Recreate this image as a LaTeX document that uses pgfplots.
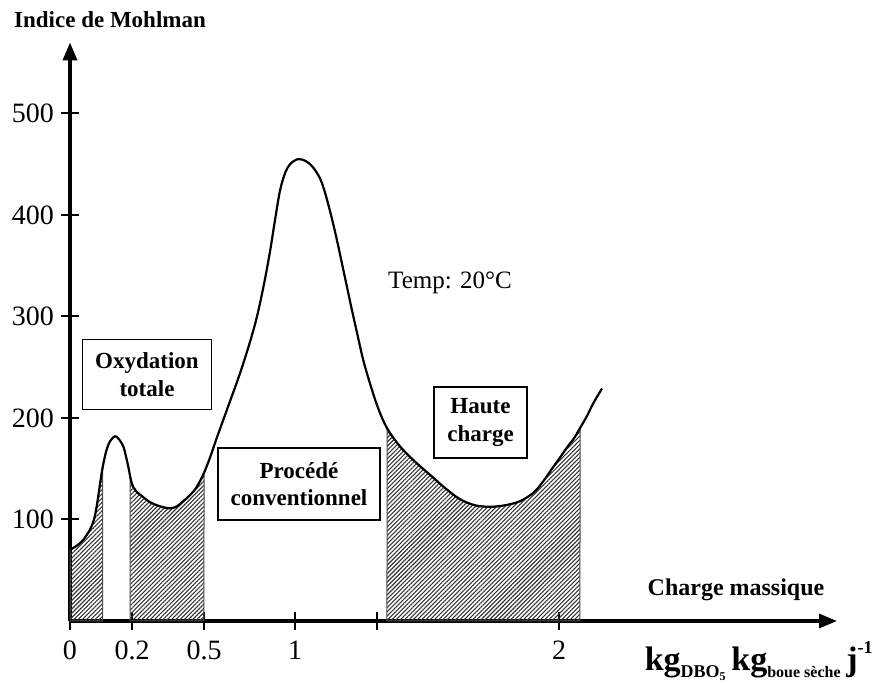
\documentclass[border=0pt]{standalone}
\usepackage{fontspec}
\setmainfont{Liberation Serif}
\usepackage{pgfplots}
\pgfplotsset{compat=1.18}
\usepgfplotslibrary{fillbetween}
\usetikzlibrary{arrows.meta,patterns.meta}
\begin{document}
\begin{tikzpicture}
\begin{axis}[
  x=0.5pt, y=0.5075pt,
  xmin=0, xmax=767, ymin=0, ymax=570,
  axis lines=left,
  enlargelimits=false,
  clip=false,
  every outer x axis line/.append style={line width=1.6pt, -{Triangle[length=9pt,width=7pt]}},
  every outer y axis line/.append style={line width=1.8pt, -{Triangle[length=9pt,width=7pt]}},
  x axis line style={line width=1.6pt, -{Triangle[length=9pt,width=7pt]}},
  y axis line style={line width=1.8pt, -{Triangle[length=9pt,width=7pt]}},
  xtick={0,62,134,225,307,489},
  xticklabels={0,0.2,0.5,1,{},2},
  ytick={100,200,300,400,500},
  tick align=center,
  major tick length=9pt,
  tick style={line width=1pt, black},
  /pgf/number format/assume math mode=true,
  tick label style={font=\fontsize{14}{16}\selectfont},
  xticklabel style={yshift=-2pt},
]
% curve
\addplot[name path=curve, black, line width=1.1pt, smooth, tension=0.55] coordinates {
(0,70) (3.3,72) (8,75) (13.3,80) (20,90) (24,100) (26.7,113) (29,128) (31.7,146)
(34,158) (36.7,169) (40,177) (45,182) (49,179) (53.3,172) (56,162) (58.3,152)
(61.7,136) (66,128) (73.3,122) (80,117) (90,113) (100,111) (107,113) (113.3,118)
(120,124) (126.7,132) (134,146) (140,161) (147,181) (158,211) (170,244) (180,275)
(187,300) (194,332) (200,364) (205,395) (210,424) (215,441) (220,450) (228,455)
(236,453) (243,447) (250,436) (255,422) (261,400) (267,375) (272,352) (277,329)
(282,306) (287,284) (293,258) (300,234) (308,210) (317,190) (330,172)
(345,157) (360,144) (375,131) (390,120) (405,114) (420,112.5) (435,114)
(450,118) (463,126) (472,136) (482,150) (490,161) (497,171) (504,180)
(510,190) (517,202) (523,214) (532,229)
};
\path[name path=base] (axis cs:0,0) -- (axis cs:540,0);
\addplot[pattern={Lines[angle=45,distance=1.5pt,line width=0.55pt]}, pattern color=black!80, draw=black!70, line width=0.5pt]
  fill between[of=curve and base, soft clip={domain=0:32.7}];
\addplot[pattern={Lines[angle=45,distance=1.5pt,line width=0.55pt]}, pattern color=black!80, draw=black!70, line width=0.5pt]
  fill between[of=curve and base, soft clip={domain=60:134}];
\addplot[pattern={Lines[angle=45,distance=1.5pt,line width=0.55pt]}, pattern color=black!80, draw=black!70, line width=0.5pt]
  fill between[of=curve and base, soft clip={domain=317:510}];
% boxes
\draw[line width=0.7pt] (axis cs:12.7,208.6) rectangle (axis cs:141.7,277.5);
\node[align=center, font=\fontsize{11.5}{14}\selectfont\bfseries] at (axis cs:77,243) {Oxydation\\totale};
\draw[line width=0.7pt] (axis cs:148,99.5) rectangle (axis cs:310,170.4);
\node[align=center, font=\fontsize{11.5}{13.5}\selectfont\bfseries] at (axis cs:229,135) {Procédé\\conventionnel};
\draw[line width=0.7pt] (axis cs:364,160.6) rectangle (axis cs:457,230.5);
\node[align=center, font=\fontsize{11.5}{14}\selectfont\bfseries] at (axis cs:410.5,195.5) {Haute\\charge};
% texts
\node[font=\fontsize{12.5}{15}\selectfont] at (axis cs:380,333) {Temp: 20°C};
\node[font=\fontsize{11.5}{14}\selectfont\bfseries] at (axis cs:40,592) {Indice de Mohlman};
\node[font=\fontsize{12}{14}\selectfont\bfseries] at (axis cs:666,30.5) {Charge massique};
\node[anchor=base east, inner sep=0pt] at (axis cs:803,-49) {\fontsize{17}{20}\selectfont\bfseries kg\raisebox{-0.45ex}{\fontsize{9}{10}\selectfont DBO\raisebox{-0.3ex}{\fontsize{6}{7}\selectfont 5}}\,kg\raisebox{-0.45ex}{\fontsize{8}{9}\selectfont boue sèche}\,j\raisebox{1.1ex}{\fontsize{9}{10}\selectfont -1}};
% page frame
\path (axis cs:-70,-63.05) rectangle (axis cs:806,611.8);
\end{axis}
\end{tikzpicture}
\end{document}
